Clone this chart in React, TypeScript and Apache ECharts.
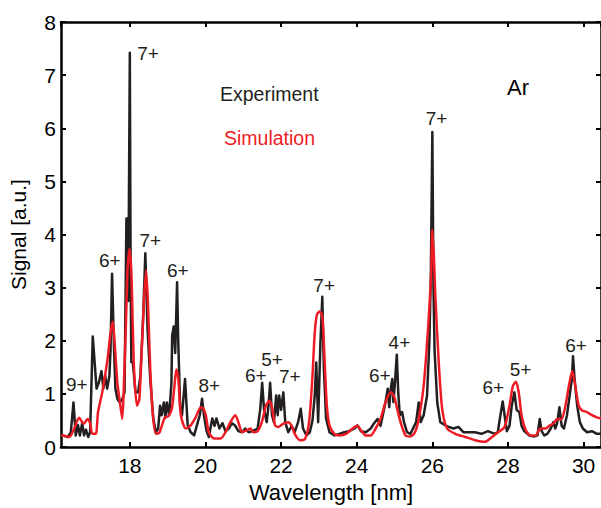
import React, { useEffect, useRef } from "react";
import * as echarts from "echarts";

const FONT = "Liberation Sans, Arial, sans-serif";
const BLACK = "#231f20";
const RED = "#ed1c24";

const xMin = 16.18;
const xMax = 30.46;
const yMin = 0;
const yMax = 8;

// Experiment spectrum [wavelength nm, signal]
const experiment: [number, number][] = [
  [16.18, 0.2], [16.22, 0.22], [16.36, 0.19], [16.44, 0.28], [16.51, 0.84], [16.57, 0.22], [16.63, 0.41], [16.68, 0.22], [16.74, 0.45], [16.79, 0.22],
  [16.84, 0.33], [16.9, 0.19], [16.95, 0.28], [17.02, 2.08], [17.07, 1.59], [17.12, 1.1], [17.18, 1.21], [17.25, 1.43], [17.3, 1.1], [17.35, 1.34],
  [17.4, 1.1], [17.46, 1.34], [17.49, 1.84], [17.53, 3.26], [17.58, 1.9], [17.62, 1.1], [17.67, 0.91], [17.73, 0.84], [17.8, 0.9], [17.86, 1.03],
  [17.89, 3.0], [17.91, 4.3], [17.94, 4.3], [17.96, 2.75], [18.0, 7.42], [18.02, 3.5], [18.04, 1.6], [18.08, 1.59], [18.15, 1.03], [18.22, 1.03],
  [18.28, 1.34], [18.35, 2.4], [18.41, 3.65], [18.47, 2.2], [18.54, 1.28], [18.62, 0.54], [18.69, 0.28], [18.75, 0.35], [18.8, 0.78], [18.84, 0.6],
  [18.9, 0.84], [18.94, 0.55], [18.98, 0.84], [19.04, 0.6], [19.1, 1.2], [19.12, 2.1], [19.16, 2.27], [19.2, 1.77], [19.25, 3.1], [19.28, 2.0],
  [19.33, 0.78], [19.38, 0.6], [19.46, 1.28], [19.53, 0.41], [19.61, 0.28], [19.7, 0.22], [19.79, 0.45], [19.85, 0.6], [19.91, 0.91], [19.96, 0.6],
  [20.03, 0.3], [20.09, 0.19], [20.18, 0.54], [20.24, 0.4], [20.29, 0.54], [20.37, 0.35], [20.45, 0.45], [20.53, 0.3], [20.62, 0.35], [20.7, 0.45],
  [20.79, 0.4], [20.87, 0.3], [20.97, 0.28], [21.05, 0.35], [21.14, 0.28], [21.24, 0.3], [21.38, 0.35], [21.45, 0.72], [21.5, 1.21], [21.55, 0.7],
  [21.62, 0.47], [21.67, 0.8], [21.71, 1.21], [21.76, 0.6], [21.81, 0.47], [21.87, 0.97], [21.91, 0.6], [21.95, 0.97], [22.0, 0.7], [22.06, 1.03],
  [22.11, 0.47], [22.19, 0.28], [22.28, 0.4], [22.36, 0.28], [22.45, 0.47], [22.52, 0.72], [22.58, 0.35], [22.67, 0.22], [22.76, 0.28], [22.83, 0.5],
  [22.89, 0.97], [22.93, 1.59], [22.98, 0.47], [23.04, 1.96], [23.09, 2.83], [23.13, 1.5], [23.19, 0.54], [23.28, 0.28], [23.41, 0.22], [23.54, 0.25],
  [23.67, 0.28], [23.8, 0.3], [23.94, 0.35], [24.02, 0.41], [24.11, 0.3], [24.24, 0.28], [24.37, 0.35], [24.46, 0.45], [24.55, 0.53], [24.63, 0.4],
  [24.69, 0.6], [24.76, 0.84], [24.82, 1.1], [24.86, 0.75], [24.9, 1.1], [24.94, 1.28], [24.97, 0.85], [25.01, 1.2], [25.06, 1.74], [25.1, 1.0],
  [25.14, 0.6], [25.2, 0.66], [25.25, 0.47], [25.33, 0.28], [25.42, 0.25], [25.51, 0.38], [25.57, 0.47], [25.64, 0.84], [25.69, 0.47], [25.77, 0.6],
  [25.86, 0.97], [25.92, 1.96], [25.96, 3.2], [26.0, 5.93], [26.03, 3.0], [26.06, 1.8], [26.13, 0.84], [26.21, 0.47], [26.34, 0.41], [26.43, 0.38],
  [26.56, 0.35], [26.69, 0.38], [26.82, 0.28], [26.95, 0.28], [27.12, 0.28], [27.3, 0.25], [27.47, 0.3], [27.65, 0.25], [27.73, 0.28], [27.8, 0.6],
  [27.86, 0.86], [27.91, 0.6], [27.97, 0.3], [28.04, 0.4], [28.1, 0.78], [28.17, 1.03], [28.23, 0.7], [28.3, 0.66], [28.36, 0.4], [28.43, 0.3],
  [28.56, 0.22], [28.69, 0.2], [28.78, 0.22], [28.84, 0.53], [28.89, 0.3], [28.96, 0.22], [29.04, 0.25], [29.13, 0.35], [29.2, 0.47], [29.25, 0.35],
  [29.3, 0.45], [29.36, 0.75], [29.42, 0.4], [29.48, 0.35], [29.56, 0.6], [29.63, 0.97], [29.69, 1.28], [29.72, 1.71], [29.76, 1.3], [29.83, 0.78],
  [29.9, 0.47], [29.98, 0.35], [30.09, 0.28], [30.22, 0.3], [30.35, 0.25], [30.46, 0.25],
];

// Simulation spectrum [wavelength nm, signal]
const simulation: [number, number][] = [
  [16.18, 0.22], [16.22, 0.22], [16.4, 0.19], [16.53, 0.35], [16.66, 0.55], [16.78, 0.44], [16.88, 0.53], [16.95, 0.45], [17.01, 0.25], [17.1, 0.25],
  [17.16, 0.66], [17.27, 1.03], [17.41, 1.65], [17.49, 2.15], [17.55, 2.36], [17.61, 1.85], [17.67, 1.21], [17.74, 0.84], [17.8, 0.53], [17.84, 1.1],
  [17.9, 2.39], [17.94, 3.33], [17.99, 3.73], [18.04, 3.3], [18.08, 2.21], [18.12, 1.34], [18.19, 0.78], [18.25, 0.9], [18.3, 1.59], [18.37, 2.7],
  [18.43, 3.33], [18.48, 2.7], [18.54, 1.47], [18.61, 0.6], [18.69, 0.25], [18.78, 0.27], [18.85, 0.41], [18.93, 0.56], [19.02, 0.58], [19.11, 0.72],
  [19.18, 1.15], [19.23, 1.46], [19.28, 1.3], [19.35, 0.6], [19.48, 0.35], [19.61, 0.41], [19.74, 0.56], [19.88, 0.75], [19.94, 0.73], [20.01, 0.6],
  [20.09, 0.28], [20.23, 0.16], [20.4, 0.16], [20.53, 0.28], [20.66, 0.47], [20.79, 0.6], [20.88, 0.45], [20.97, 0.28], [21.1, 0.32], [21.19, 0.35],
  [21.27, 0.28], [21.38, 0.3], [21.49, 0.47], [21.6, 0.78], [21.69, 0.87], [21.76, 0.75], [21.84, 0.41], [21.93, 0.38], [22.06, 0.44], [22.19, 0.47],
  [22.28, 0.4], [22.36, 0.25], [22.5, 0.13], [22.63, 0.15], [22.74, 0.47], [22.83, 1.34], [22.89, 2.15], [22.95, 2.5], [23.02, 2.55], [23.09, 2.46],
  [23.15, 1.65], [23.21, 0.78], [23.28, 0.41], [23.41, 0.25], [23.54, 0.22], [23.72, 0.25], [23.89, 0.35], [24.02, 0.4], [24.11, 0.32], [24.24, 0.22],
  [24.37, 0.22], [24.5, 0.35], [24.63, 0.53], [24.76, 0.84], [24.9, 1.03], [24.99, 0.95], [25.07, 0.72], [25.16, 0.47], [25.29, 0.22], [25.42, 0.2],
  [25.54, 0.28], [25.64, 0.53], [25.77, 1.15], [25.89, 2.27], [25.97, 3.3], [26.0, 4.09], [26.04, 3.6], [26.08, 2.83], [26.17, 1.59], [26.26, 0.72],
  [26.39, 0.35], [26.61, 0.25], [26.87, 0.19], [27.13, 0.13], [27.39, 0.1], [27.56, 0.18], [27.74, 0.28], [27.91, 0.38], [28.04, 0.78], [28.13, 1.15],
  [28.21, 1.23], [28.28, 1.05], [28.36, 0.6], [28.47, 0.32], [28.6, 0.22], [28.73, 0.22], [28.86, 0.35], [28.99, 0.35], [29.11, 0.41], [29.21, 0.45],
  [29.3, 0.53], [29.41, 0.52], [29.52, 0.78], [29.61, 1.15], [29.7, 1.43], [29.78, 1.15], [29.87, 0.78], [29.96, 0.69], [30.09, 0.66], [30.22, 0.6],
  [30.35, 0.56], [30.46, 0.54],
];

// Charge-state annotations
const annoLabels = ["9+", "6+", "7+", "7+", "6+", "8+", "6+", "5+", "7+", "7+", "6+", "4+", "7+", "6+", "5+", "6+"];
const annoX = [16.6, 17.47, 18.48, 18.54, 19.27, 20.1, 21.33, 21.76, 22.23, 23.14, 24.61, 25.13, 26.11, 27.61, 28.33, 29.8];
const annoY = [1.17, 3.51, 7.4, 3.88, 3.33, 1.15, 1.34, 1.65, 1.33, 3.05, 1.34, 1.96, 6.18, 1.12, 1.46, 1.91];

const xAxisTitle = "Wavelength [nm]";
const yAxisTitle = "Signal [a.u.]";

const axisLineStyle = { color: "#000", width: 2.5 };

export default function App() {
  const ref = useRef<HTMLDivElement>(null);

  useEffect(() => {
    if (!ref.current) return;
    const chart = echarts.init(ref.current, null, { renderer: "svg" });
    const xBase = {
      type: "value",
      min: xMin,
      max: xMax,
      splitNumber: 7,
      splitLine: { show: false },
      axisLine: { show: true, onZero: false, lineStyle: axisLineStyle },
      axisTick: { show: true, inside: true, length: 5, lineStyle: { color: "#000", width: 2 } },
    };
    const yBase = {
      type: "value",
      min: yMin,
      max: yMax,
      interval: 1,
      splitLine: { show: false },
      axisLine: { show: true, onZero: false, lineStyle: axisLineStyle },
      axisTick: { show: true, inside: true, length: 5, lineStyle: { color: "#000", width: 2 } },
    };
    chart.setOption({
      animation: false,
      backgroundColor: "#fff",
      grid: { left: 59, top: 22, width: 544, height: 430, containLabel: false },
      xAxis: [
        {
          ...xBase,
          position: "bottom",
          name: xAxisTitle,
          nameLocation: "middle",
          nameGap: 27,
          nameTextStyle: { fontSize: 22, fontFamily: FONT, color: "#000" },
          axisLabel: {
            fontSize: 21,
            fontFamily: FONT,
            color: "#000",
            margin: 8,
            showMinLabel: false,
            showMaxLabel: false,
            formatter: (v: number) => (Math.abs(v - Math.round(v)) < 1e-6 && Math.round(v) % 2 === 0 ? String(Math.round(v)) : ""),
          },
        },
        { ...xBase, position: "top", axisLabel: { show: false } },
      ],
      yAxis: [
        {
          ...yBase,
          position: "left",
          name: yAxisTitle,
          nameLocation: "middle",
          nameGap: 32,
          nameTextStyle: { fontSize: 21, fontFamily: FONT, color: "#000" },
          axisLabel: { fontSize: 21, fontFamily: FONT, color: "#000", margin: 5 },
        },
        { ...yBase, position: "right", axisLabel: { show: false } },
      ],
      series: [
        {
          name: "Experiment",
          type: "line",
          data: experiment,
          showSymbol: false,
          symbol: "none",
          lineStyle: { color: BLACK, width: 2.5, join: "round" },
          z: 2,
        },
        {
          name: "Simulation",
          type: "line",
          data: simulation,
          smooth: 0.25,
          showSymbol: false,
          symbol: "none",
          lineStyle: { color: RED, width: 2.5 },
          z: 3,
        },
        {
          name: "labels",
          type: "scatter",
          symbolSize: 1,
          itemStyle: { color: "rgba(255,255,255,0)", opacity: 1 },
          data: annoLabels.map((t, i) => ({ name: t, value: [annoX[i], annoY[i]] })),
          label: {
            show: true,
            position: "inside",
            formatter: "{b}",
            fontSize: 19,
            fontFamily: FONT,
            color: BLACK,
            opacity: 1,
            textBorderWidth: 0,
          },
          emphasis: { disabled: true },
          z: 4,
          silent: true,
        },
      ],
      graphic: [
        {
          type: "text",
          x: 220,
          y: 94,
          style: { text: "Experiment", fontSize: 19.5, fontFamily: FONT, fill: BLACK, verticalAlign: "middle" },
        },
        {
          type: "text",
          x: 224,
          y: 138,
          style: { text: "Simulation", fontSize: 19.5, fontFamily: FONT, fill: RED, verticalAlign: "middle" },
        },
        {
          type: "text",
          x: 507,
          y: 87,
          style: { text: "Ar", fontSize: 22, fontFamily: FONT, fill: "#000", verticalAlign: "middle" },
        },
      ],
    });
    return () => chart.dispose();
  }, []);

  return (
    <div
      ref={ref}
      style={{ position: "absolute", left: 0, top: 0, width: 601, height: 508, background: "#fff" }}
    />
  );
}
